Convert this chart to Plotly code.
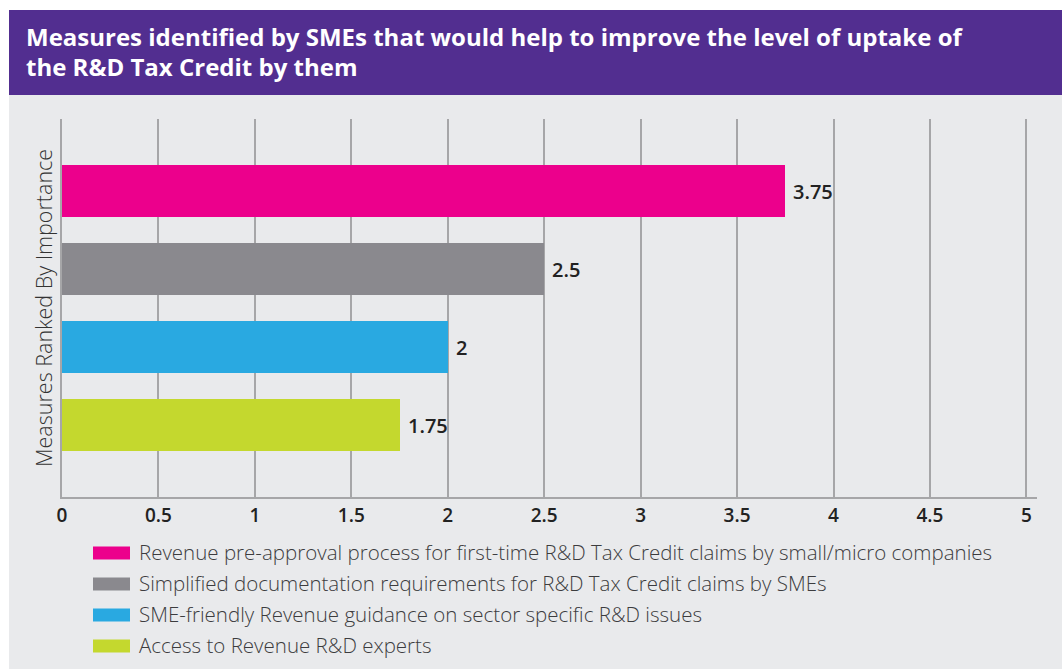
import plotly.graph_objects as go

# Chart data
measures = [
    "Revenue pre-approval process for first-time R&D Tax Credit claims by small/micro companies",
    "Simplified documentation requirements for R&D Tax Credit claims by SMEs",
    "SME-friendly Revenue guidance on sector specific R&D issues",
    "Access to Revenue R&D experts",
]
scores = [3.75, 2.5, 2, 1.75]
ranks = [1, 2, 3, 4]
colors = ["#EC008C", "#8A898E", "#29A9E1", "#C4D82E"]
x_ticks = [0, 0.5, 1, 1.5, 2, 2.5, 3, 3.5, 4, 4.5, 5]
x_tick_labels = ["0", "0.5", "1", "1.5", "2", "2.5", "3", "3.5", "4", "4.5", "5"]
title_lines = [
    "Measures identified by SMEs that would help to improve the level of uptake of",
    "the R&D Tax Credit by them",
]
y_title = "Measures Ranked By Importance"

W, H = 1062, 669
M_L, M_R, M_T, M_B = 62, 25, 119, 172
PW, PH = W - M_L - M_R, H - M_T - M_B


def px_x(px):
    return (px - M_L) / PW


def px_y(py):
    return (H - M_B - py) / PH


BG = "#E9EAEC"
PURPLE = "#522E90"
GRID = "#A6A6A8"
FONT = "Open Sans"

fig = go.Figure()
for name, val, rk, col in zip(measures, scores, ranks, colors):
    fig.add_trace(go.Bar(
        x=[val], y=[rk], orientation="h", width=0.667,
        marker=dict(color=col, line=dict(width=0)),
        name=name, showlegend=False, hoverinfo="x",
    ))

shapes = [
    # white outer margins, purple header band
    dict(type="rect", xref="paper", yref="paper", x0=px_x(0), x1=px_x(W), y0=px_y(0), y1=px_y(10),
         fillcolor="white", line=dict(width=0), layer="below"),
    dict(type="rect", xref="paper", yref="paper", x0=px_x(0), x1=px_x(9), y0=px_y(0), y1=px_y(H),
         fillcolor="white", line=dict(width=0), layer="below"),
    dict(type="rect", xref="paper", yref="paper", x0=px_x(9), x1=px_x(W), y0=px_y(10), y1=px_y(95),
         fillcolor=PURPLE, line=dict(width=0), layer="below"),
]
annotations = []

# title lines
for i, line in enumerate(title_lines):
    annotations.append(dict(
        text=f"<b>{line}</b>", xref="paper", yref="paper", x=px_x(24), y=px_y(36.5 + 30 * i),
        xanchor="left", yanchor="middle", showarrow=False,
        font=dict(family=FONT, size=24, color="white"),
    ))

# value labels next to each bar
for val, rk in zip(scores, ranks):
    annotations.append(dict(
        text=f"{val:g}", x=val, y=rk, xref="x", yref="y", xanchor="left", yanchor="middle",
        xshift=6, showarrow=False,
        font=dict(family=FONT, size=20, color="#222222", weight=600),
    ))

# legend rows
for i, (name, col) in enumerate(zip(measures, colors)):
    cy = 553 + 31 * i
    shapes.append(dict(type="rect", xref="paper", yref="paper",
                       x0=px_x(93), x1=px_x(130), y0=px_y(cy - 6.5), y1=px_y(cy + 6.5),
                       fillcolor=col, line=dict(width=0)))
    annotations.append(dict(
        text=name, xref="paper", yref="paper", x=px_x(137), y=px_y(cy - 1), xanchor="left",
        yanchor="middle", showarrow=False,
        font=dict(family=FONT, size=20.5, color="#3C3C3E", weight=300),
    ))

# y-axis title
annotations.append(dict(
    text=y_title, xref="paper", yref="paper", x=px_x(43), y=px_y(308), textangle=-90,
    xanchor="center", yanchor="middle", showarrow=False,
    font=dict(family=FONT, size=21.5, color="#333333", weight=300),
))

fig.update_layout(
    width=W, height=H, autosize=False,
    margin=dict(l=M_L, r=M_R, t=M_T, b=M_B, pad=0),
    paper_bgcolor=BG, plot_bgcolor=BG,
    bargap=0, showlegend=False,
    shapes=shapes, annotations=annotations,
    xaxis=dict(
        range=[0, 5.055], tickvals=x_ticks, ticktext=x_tick_labels,
        showgrid=True, gridcolor=GRID, gridwidth=1.6,
        showline=True, linecolor=GRID, linewidth=2,
        zeroline=False, ticks="", ticklen=0,
        tickfont=dict(family=FONT, size=19, color="#222222", weight=600),
        fixedrange=True,
    ),
    yaxis=dict(
        range=[4.923, 0.077], showgrid=False, showticklabels=False,
        showline=True, linecolor=GRID, linewidth=2, zeroline=False, ticks="",
        fixedrange=True,
    ),
)

fig.write_html("out.html")
